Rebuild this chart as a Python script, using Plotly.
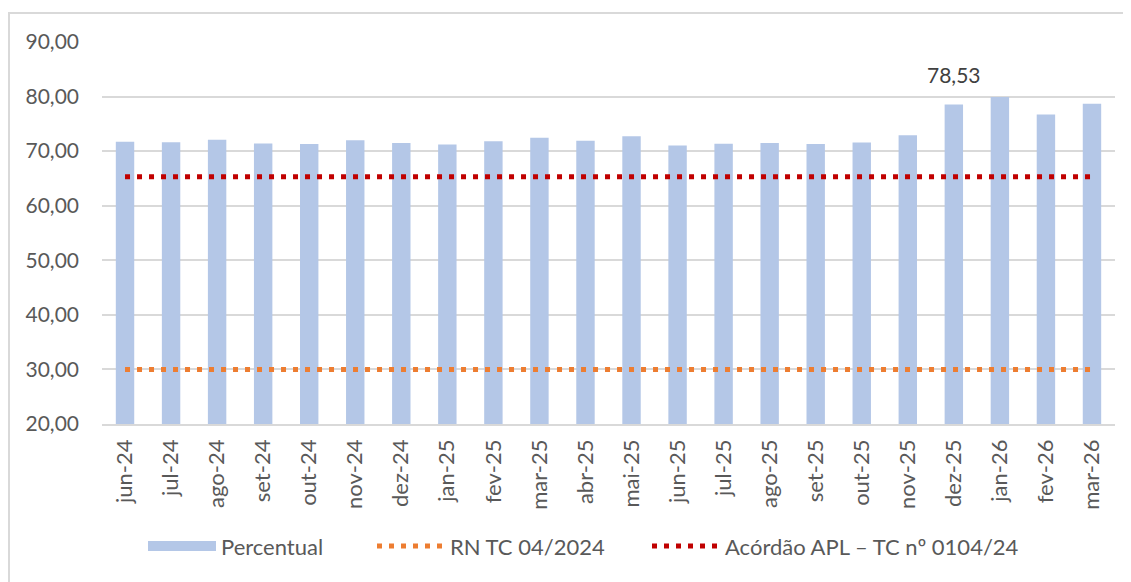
import plotly.graph_objects as go

categories = ["jun-24", "jul-24", "ago-24", "set-24", "out-24", "nov-24", "dez-24",
              "jan-25", "fev-25", "mar-25", "abr-25", "mai-25", "jun-25", "jul-25",
              "ago-25", "set-25", "out-25", "nov-25", "dez-25", "jan-26", "fev-26", "mar-26"]
percentual = [71.70, 71.65, 72.10, 71.40, 71.30, 72.00, 71.50, 71.20, 71.80, 72.45, 71.90,
              72.75, 71.05, 71.35, 71.50, 71.30, 71.60, 72.90, 78.53, 79.90, 76.70, 78.70]
rn_tc = [30.00, 30.00, 30.00, 30.00, 30.00, 30.00, 30.00, 30.00, 30.00, 30.00, 30.00,
         30.00, 30.00, 30.00, 30.00, 30.00, 30.00, 30.00, 30.00, 30.00, 30.00, 30.00]
acordao = [65.30, 65.30, 65.30, 65.30, 65.30, 65.30, 65.30, 65.30, 65.30, 65.30, 65.30,
           65.30, 65.30, 65.30, 65.30, 65.30, 65.30, 65.30, 65.30, 65.30, 65.30, 65.30]
y_ticks = [20, 30, 40, 50, 60, 70, 80, 90]
y_tick_labels = ["20,00", "30,00", "40,00", "50,00", "60,00", "70,00", "80,00", "90,00"]
label_category = "dez-25"

FONT = "Lato"
GRAY = "#595959"
BAR = "#B4C7E7"
ORANGE = "#ED7D31"
RED = "#C00000"
GRID = "#D9D9D9"

# page body has an 8px default margin; figure is sized so the plot lands where the reference has it
W, H = 1123, 574
ML, MR, MT, MB = 94, 16, 34, 158
PW = W - ML - MR
PH = H - MT - MB

fig = go.Figure()
fig.add_trace(go.Bar(x=categories, y=percentual, marker_color=BAR, marker_line_width=0,
                     name="Percentual", showlegend=False))
# legend stand-in for the bar series (wide rectangle symbol)
fig.add_trace(go.Scatter(x=[categories[0]], y=[None], mode="lines", legend="legend",
                         line=dict(color=BAR, width=14), name="Percentual"))
fig.add_trace(go.Scatter(x=categories, y=rn_tc, mode="lines", name="RN TC 04/2024",
                         legend="legend2",
                         line=dict(color=ORANGE, width=5, dash="5px,7px")))
fig.add_trace(go.Scatter(x=categories, y=acordao, mode="lines", name="Acórdão APL – TC nº 0104/24",
                         legend="legend3",
                         line=dict(color=RED, width=5, dash="5px,7px")))

idx = categories.index(label_category)
fig.add_annotation(x=label_category, y=percentual[idx],
                   text=f"{percentual[idx]:.2f}".replace(".", ","),
                   showarrow=False, yanchor="bottom", yshift=16,
                   font=dict(family=FONT, size=21, color="#404040"))

def leg(xpx):
    return dict(orientation="h", x=(xpx - 5 - 102) / PW, xanchor="left", y=-0.265, yanchor="top",
                itemwidth=68, font=dict(family=FONT, size=22, color=GRAY),
                bgcolor="rgba(0,0,0,0)")

fig.update_layout(
    width=W, height=H,
    margin=dict(l=ML, r=MR, t=MT, b=MB),
    paper_bgcolor="white", plot_bgcolor="white",
    font=dict(family=FONT, size=21, color=GRAY),
    bargap=0.6,
    showlegend=True,
    legend=leg(148), legend2=leg(377), legend3=leg(652),
    xaxis=dict(type="category", tickangle=-90, showgrid=False, showline=True,
               linecolor=GRID, linewidth=1.5, ticks="", ticklabelstandoff=5,
               tickfont=dict(family=FONT, size=22, color=GRAY)),
    yaxis=dict(range=[20, 90], tickvals=y_ticks, ticktext=y_tick_labels,
               showgrid=True, gridcolor=GRID, gridwidth=1.5, zeroline=False,
               showline=False, ticks="", ticklabelstandoff=22,
               tickfont=dict(family=FONT, size=21, color=GRAY)),
)

# chart-area border (partially cropped in the reference)
fig.add_shape(type="rect", xref="paper", yref="paper",
              x0=(9 - 102) / PW, x1=1.05, y0=-0.6, y1=(424 - 13) / PH,
              line=dict(color=GRID, width=2), fillcolor="rgba(0,0,0,0)", layer="below")

fig.write_html("out.html")
